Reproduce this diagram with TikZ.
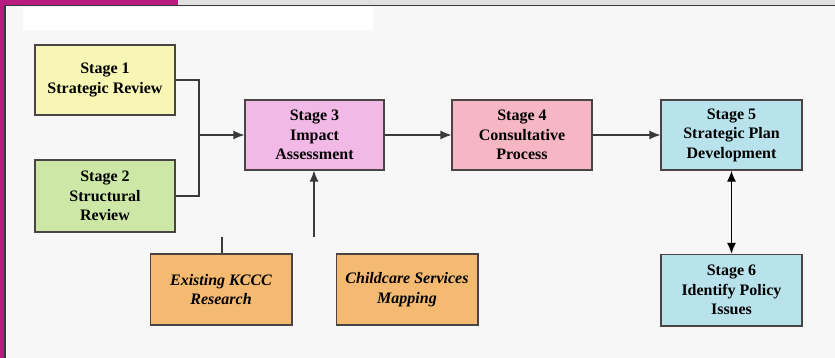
\documentclass[tikz,border=0pt]{standalone}
\usepackage{fontspec}
\setmainfont{Liberation Serif}
\usetikzlibrary{arrows.meta}
\definecolor{bgc}{HTML}{F7F7F7}
\definecolor{magbar}{HTML}{B81C80}
\definecolor{topgrey}{HTML}{E0E0E2}
\definecolor{framec}{HTML}{3A3A3A}
\definecolor{edgec}{HTML}{4A4444}
\definecolor{cyel}{HTML}{F8F6B4}
\definecolor{cgrn}{HTML}{CDE8A6}
\definecolor{cpnk}{HTML}{F2B8E6}
\definecolor{crose}{HTML}{F6B6C4}
\definecolor{cblu}{HTML}{B9E3EC}
\definecolor{corg}{HTML}{F5BA72}
\tikzset{
  stagebox/.style={draw=edgec, line width=1.1pt, minimum width=140pt, minimum height=70pt,
    align=center, inner sep=2pt, font=\fontsize{16}{19.5}\selectfont\bfseries, text=black},
  srcbox/.style={stagebox, font=\fontsize{16}{19.5}\selectfont\bfseries\itshape},
  conn/.style={draw=framec, line width=1.2pt},
  arr/.style={conn, -{Latex[length=11pt,width=9pt]}},
  darr/.style={draw=black, line width=1.8pt, {Latex[length=11pt,width=9pt]}-{Latex[length=11pt,width=9pt]}},
}
\begin{document}
\begin{tikzpicture}[x=1pt,y=1pt]
\useasboundingbox (0,0) rectangle (835,358);
\fill[bgc] (0,0) rectangle (835,358);
\fill[magbar] (0,0) rectangle (4.5,358);
\fill[magbar] (0,353) rectangle (178,358);
\fill[topgrey] (178,353) rectangle (835,358);
\draw[framec, line width=1.2pt] (5,0) -- (5,352.4) -- (835,352.4);
\fill[white] (23,328) rectangle (373,351);

\node[stagebox, fill=cyel] (s1) at (105,278) {Stage 1\\Strategic Review};
\node[stagebox, fill=cgrn, minimum height=72pt] (s2) at (105,162) {Stage 2\\Structural\\Review};
\node[stagebox, fill=cpnk, minimum width=139pt] (s3) at (314.5,223) {Stage 3\\Impact\\Assessment};
\node[stagebox, fill=crose] (s4) at (522,223) {Stage 4\\Consultative\\Process};
\node[stagebox, fill=cblu, minimum width=141pt] (s5) at (731.5,223) {Stage 5\\Strategic Plan\\Development};
\node[stagebox, fill=cblu, minimum width=141pt, minimum height=71pt] (s6) at (731.5,68) {Stage 6\\Identify Policy\\Issues};
\node[srcbox, fill=corg, minimum width=141pt, minimum height=71pt] (kc) at (221,68.5) {Existing KCCC\\Research};
\node[srcbox, fill=corg, minimum width=141pt, minimum height=71pt] (cs) at (407,68.5) {Childcare Services\\Mapping};

\foreach \n in {s1,s2,s3,s4,s5,s6,kc,cs}{
  \draw[edgec, line width=1.8pt] (\n.south west) -- (\n.south east) -- (\n.north east);
}

\coordinate (j) at (199,223);
\draw[conn] (s1.east) -| (j);
\draw[conn] (s2.east) -| (j);
\draw[arr] (j) -- (s3.west);
\draw[arr] (s3.east) -- (s4.west);
\draw[arr] (s4.east) -- (s5.west);
\draw[darr] (s5.south) -- (s6.north);
\coordinate (k) at (222,121);
\draw[conn] (k |- kc.north) -- (k);
\coordinate (c) at (314,121);
\draw[arr] (c) -- (c |- s3.south);
\end{tikzpicture}
\end{document}
